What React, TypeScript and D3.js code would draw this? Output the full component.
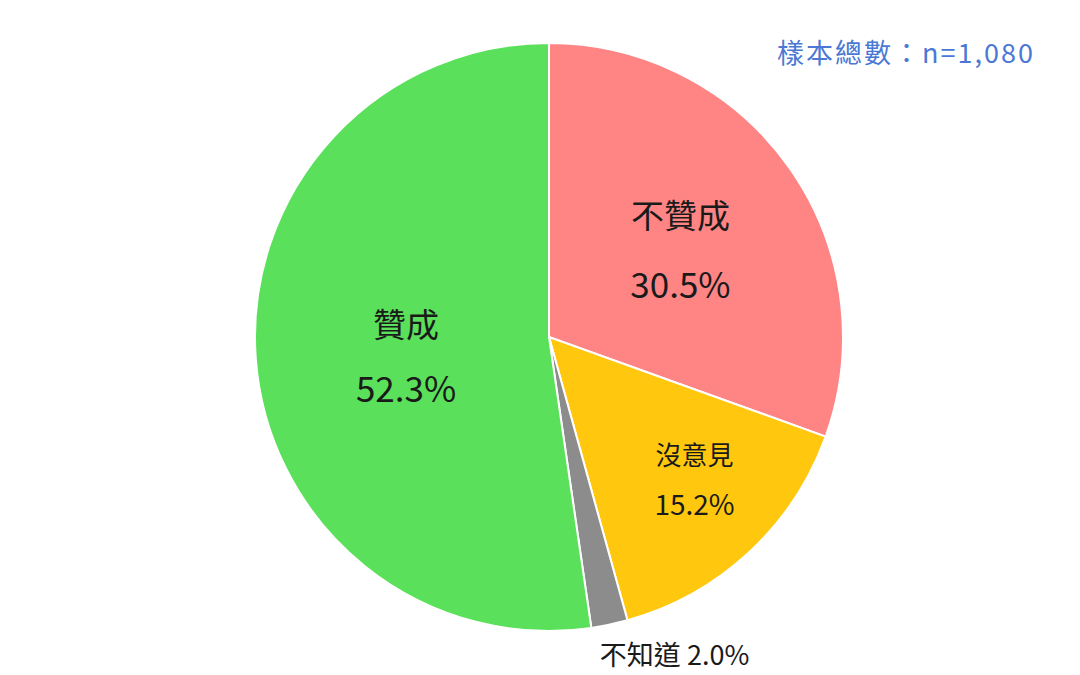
import * as d3 from 'd3';
import { useRef, useEffect } from "react"

const categories = ["不贊成", "沒意見", "不知道", "贊成"]
const values = [30.5, 15.2, 2.0, 52.3]
const colors = ["#ff8585", "#ffc80f", "#8c8c8c", "#5ae05a"]
const sampleNote = "樣本總數：n=1,080"

function App() {
    const ref = useRef<SVGSVGElement | null>(null)

    useEffect(() => {
        renderChart();
    }, [])

    function renderChart() {
        const width = 1080
        const height = 675
        const cx = 549
        const cy = 337
        const radius = 294

        const svg = d3.select(ref.current!)
        svg.selectAll("*").remove()

        svg.append("rect")
            .attr("width", width)
            .attr("height", height)
            .attr("fill", "#ffffff")

        const g = svg.append("g")
            .attr("transform", "translate(" + cx + "," + cy + ")")

        const pie = d3.pie<number>().sort(null).value(d => d)
        const arcs = pie(values)
        const arc = d3.arc<d3.PieArcDatum<number>>().innerRadius(0).outerRadius(radius)

        g.selectAll("path")
            .data(arcs)
            .enter()
            .append("path")
            .attr("d", arc)
            .attr("fill", (d, i) => colors[i])
            .attr("stroke", "#ffffff")
            .attr("stroke-width", 2)

        // label placement: radius factor, angle nudge (deg), font sizes, line gap
        const labelStyle = [
            { r: 0.54, da: 1, size: 33, numSize: 35, gap: 68 },
            { r: 0.69, da: -3, size: 26, numSize: 28, gap: 49 },
            null,
            { r: 0.49, da: -3, size: 33, numSize: 35, gap: 64 },
        ]

        arcs.forEach((a, i) => {
            const st = labelStyle[i]
            if (!st) return
            const mid = (a.startAngle + a.endAngle) / 2 + st.da * Math.PI / 180
            const x = Math.sin(mid) * radius * st.r
            const y = -Math.cos(mid) * radius * st.r
            g.append("text")
                .attr("x", x)
                .attr("y", y - st.gap / 2)
                .attr("text-anchor", "middle")
                .attr("dominant-baseline", "central")
                .attr("font-size", st.size)
                .attr("fill", "#1a1a1a")
                .text(categories[i])
            g.append("text")
                .attr("x", x)
                .attr("y", y + st.gap / 2)
                .attr("text-anchor", "middle")
                .attr("dominant-baseline", "central")
                .attr("font-size", st.numSize)
                .attr("fill", "#1a1a1a")
                .text(values[i].toFixed(1) + "%")
        })

        // small slice label outside the pie
        const small = arcs[2]
        const smallMid = (small.startAngle + small.endAngle) / 2
        g.append("text")
            .attr("x", Math.sin(smallMid) * radius * 1.1 + 59)
            .attr("y", -Math.cos(smallMid) * radius * 1.1)
            .attr("text-anchor", "middle")
            .attr("dominant-baseline", "central")
            .attr("font-size", 27)
            .attr("fill", "#1a1a1a")
            .text(categories[2] + " " + values[2].toFixed(1) + "%")

        svg.append("text")
            .attr("x", 1035)
            .attr("y", 51)
            .attr("text-anchor", "end")
            .attr("dominant-baseline", "central")
            .attr("font-size", 27)
            .attr("letter-spacing", 2)
            .attr("fill", "#4a78d4")
            .text(sampleNote)
    }

    return (
        <svg
            width={1080}
            height={675}
            ref={ref}
            style={{ position: 'absolute', left: 0, top: 0, fontFamily: '"Noto Sans CJK TC", "Noto Sans", sans-serif' }}
        />
    )
}

export default App;
